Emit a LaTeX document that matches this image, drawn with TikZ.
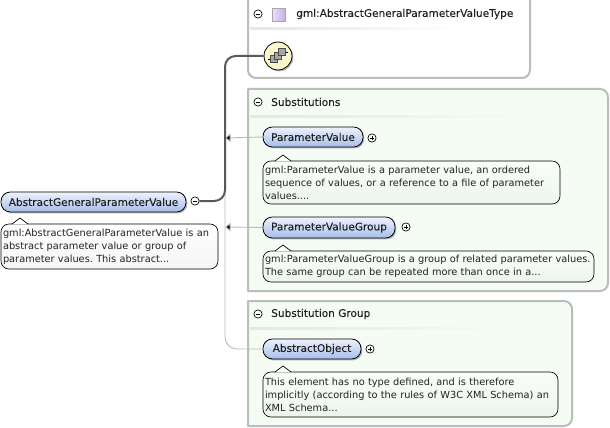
\documentclass[tikz,border=0pt]{standalone}
\usepackage{fontspec}
\setmainfont{DejaVu Sans}
\usetikzlibrary{arrows.meta,calc,shadows}
\definecolor{edge}{HTML}{BABEBA}
\definecolor{mint}{HTML}{F4FCF4}
\definecolor{ink}{HTML}{222222}
\definecolor{pilltop}{HTML}{EEF2FC}
\definecolor{pillbot}{HTML}{A6BEEA}
\definecolor{purpleR}{HTML}{C4B2E6}
\definecolor{purpleL}{HTML}{E8E2F6}
\definecolor{padyellow}{HTML}{F9F6CC}
\tikzset{
  x=0.75pt,y=-0.75pt,
  every node/.style={text=ink},
  container/.style={draw=edge,line width=1.5pt,line join=round},
  pillbox/.style={draw=black,line width=0.6pt,rounded corners=7pt,inner sep=0pt,
    top color=pilltop,bottom color=pillbot,
    drop shadow={shadow xshift=1pt,shadow yshift=-1pt,fill=black!40,opacity=.7},
    font=\fontsize{7.9}{9}\selectfont\addfontfeatures{FakeBold=0.12}},
  notebox/.style={draw=black,line width=0.5pt,rounded corners=6pt,inner sep=0pt,
    top color=white,bottom color=black!4,align=left,
    font=\fontsize{7.35}{9.75}\selectfont\frenchspacing},
  minty/.style={top color=white!50!mint,bottom color=mint!97!black},
  toggle/.style={circle,draw=black,line width=0.5pt,fill=white,minimum size=6.2pt,inner sep=0pt},
  heading/.style={anchor=west,inner sep=0pt,font=\fontsize{7.9}{9}\selectfont\addfontfeatures{FakeBold=0.12}},
  bus/.style={draw=edge,line width=0.7pt},
  mainbus/.style={draw=black!65,line width=1.5pt},
  separator/.style={left color=black!10,right color=white,draw=none},
  sepmint/.style={left color=black!10,right color=mint,draw=none},
  headarrow/.style={-{Triangle[length=4.2pt,width=6.4pt,fill=black]}},
}
\newcommand{\pillnode}[6]{% name x1 y1 x2 y2 text
  \node[pillbox,minimum width={(#4-#2)*0.75pt},minimum height={(#5-#3)*0.75pt}] (#1) at ({(#2+#4)/2},{(#3+#5)/2}) {#6};}
\newcommand{\notenode}[8]{% name x1 y1 x2 y2 tipx fillstyle text
  \node[notebox,#7,minimum width={(#4-#2)*0.75pt},minimum height={(#5-#3)*0.75pt},text width={(#4-#2-4)*0.75pt}] (#1) at ({(#2+#4)/2},{(#3+#5)/2}) {#8};
  \fill[white] (#6-8,#3+0.4) -- (#6,#3-6) -- (#6+8,#3+0.4) -- cycle;
  \draw[line width=0.5pt,black] (#6-8,#3) -- (#6,#3-6) -- (#6+8,#3);}
\newcommand{\minusnode}[3]{\node[toggle] (#1) at (#2,#3) {};
  \draw[line width=0.5pt] ($(#1.center)+(-2.2,0)$) -- ($(#1.center)+(2.2,0)$);}
\newcommand{\plusnode}[3]{\node[toggle] (#1) at (#2,#3) {};
  \draw[line width=0.5pt] ($(#1.center)+(-2.2,0)$) -- ($(#1.center)+(2.2,0)$)
    ($(#1.center)+(0,-2.2)$) -- ($(#1.center)+(0,2.2)$);}
\begin{document}
\begin{tikzpicture}
\useasboundingbox[fill=white] (0,0) rectangle (610,428);
% containers
\draw[container,fill=white] (248,-3) -- (530,-3) [rounded corners=6pt] -- (530,78) -- (248,78) [sharp corners] -- cycle;
\draw[container,fill=mint] (248,89) -- (248,291) [rounded corners=6pt] -- (608,291) -- (608,89) [sharp corners] -- cycle;
\draw[container,fill=mint] (248,301) -- (248,426) [rounded corners=6pt] -- (572,426) -- (572,301) [sharp corners] -- cycle;
\fill[separator] (250,27.5) rectangle (462,29.5);
\fill[sepmint] (250,115.5) rectangle (520,117.5);
\fill[sepmint] (250,327.5) rectangle (500,329.5);
% headers
\minusnode{mT}{258}{14}
\node[draw=black!35,line width=0.4pt,left color=purpleL,right color=purpleR,minimum size=9.6pt,inner sep=0pt] (sq) at (278.5,14.5) {};
\node[heading] (hT) at (296,14) {gml:AbstractGeneralParameterValueType};
\minusnode{mS}{258}{102}
\node[heading] (hS) at (271,102) {Substitutions};
\minusnode{mG}{258}{314}
\node[heading] (hG) at (271,314) {Substitution Group};
% coordinates for the connectors
\coordinate (trunkTop) at (225,138);
\coordinate (trunkMid) at (225,227);
% elements
\pillnode{main}{1}{192}{186}{212}{AbstractGeneralParameterValue}
\minusnode{mainT}{195}{201}
\notenode{mainN}{1}{224}{218}{269}{20}{draw=black}{gml:AbstractGeneralParameterValue is an\\abstract parameter value or group of\\parameter values. This abstract...}
\node[circle,draw=black,line width=0.6pt,fill=padyellow,minimum size=21pt,inner sep=0pt,
  drop shadow={shadow xshift=1pt,shadow yshift=-1pt,fill=black!40,opacity=.7}] (seq) at (278,56) {};
\draw[line width=0.5pt] ($(seq.center)+(-10,3)$) -- ($(seq.center)+(-7,3)$) ($(seq.center)+(7,-4)$) -- ($(seq.center)+(10,-4)$);
\foreach \dx/\dy in {-4/3,0/-0.5,4/-4}
  \draw[fill=black!35,draw=black!70,line width=0.3pt] ($(seq.center)+(\dx-3.4,\dy-3.4)$) rectangle ($(seq.center)+(\dx+3.4,\dy+3.4)$);
\pillnode{pv}{263}{127}{363}{147}{ParameterValue}
\plusnode{pvT}{372}{138}
\notenode{pvN}{263}{161}{560}{204}{283}{minty}{gml:ParameterValue is a parameter value, an ordered\\sequence of values, or a reference to a file of parameter\\values....}
\pillnode{pg}{263}{217}{395}{238}{ParameterValueGroup}
\plusnode{pgT}{406}{227}
\notenode{pgN}{263}{251}{594}{282}{283}{minty}{gml:ParameterValueGroup is a group of related parameter values.\\The same group can be repeated more than once in a...}
\pillnode{ao}{263}{339}{361}{359}{AbstractObject}
\plusnode{aoT}{370}{349}
\notenode{aoN}{263}{372}{558}{417}{283}{minty}{This element has no type defined, and is therefore\\implicitly (according to the rules of W3C XML Schema) an\\XML Schema...}
% connectors
\draw[bus,rounded corners=9pt] (trunkTop) -- (trunkTop |- ao.west) -- (ao.west);
\draw[bus,headarrow] (pv.west) -- (trunkTop);
\draw[bus,headarrow] (pg.west) -- (trunkMid);
\draw[mainbus,rounded corners=8pt] (mainT.east) -- (mainT.east -| trunkTop) -- (trunkTop |- seq.west) -- (seq.west);
\end{tikzpicture}
\end{document}
